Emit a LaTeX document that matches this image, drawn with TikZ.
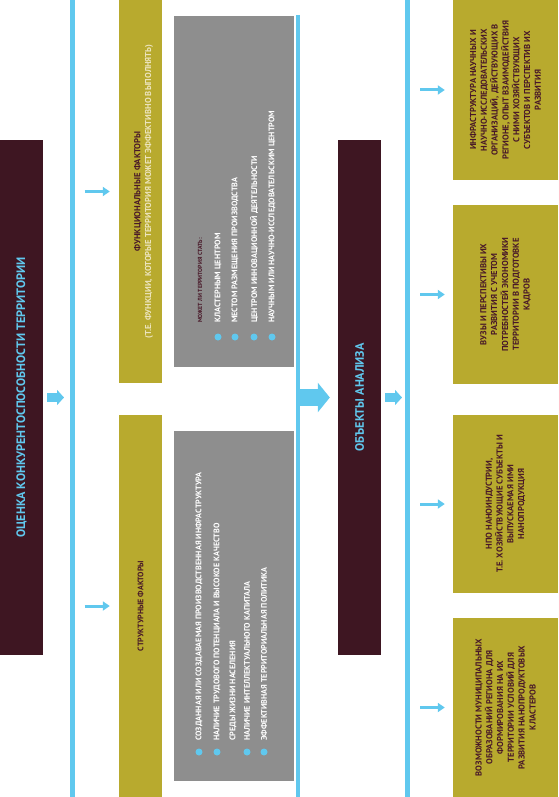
\documentclass[tikz,border=0pt]{standalone}
\usepackage{fontspec}
\setmainfont{PT Sans}[BoldFont={PT Sans Bold}]
\usetikzlibrary{arrows.meta}

\definecolor{darkmaroon}{RGB}{62,22,34}
\definecolor{factorolive}{RGB}{184,170,46}
\definecolor{panelgrey}{RGB}{142,142,142}
\definecolor{skyblue}{RGB}{96,200,238}
\definecolor{inkmaroon}{RGB}{72,24,40}
\definecolor{palecream}{RGB}{236,228,188}

\begin{document}
\begin{tikzpicture}[
  x=1pt, y=-1pt,
  % --- boxes (all text reads bottom to top)
  darkbox/.style={fill=darkmaroon, text=skyblue, rotate=90, inner sep=0pt,
    minimum height=43pt, font=\fontsize{12.2}{14}\selectfont\bfseries},
  olivebox/.style={fill=factorolive, text=inkmaroon, rotate=90, inner sep=0pt,
    align=center, font=\fontsize{8.6}{10.8}\selectfont\bfseries},
  greybox/.style={fill=panelgrey, rotate=90, inner sep=0pt,
    minimum height=120pt},
  % --- lists inside the grey panels
  listitem/.style={text=white, rotate=90, anchor=west, inner sep=0pt,
    align=left, font=\fontsize{8.1}{16}\selectfont\bfseries},
  listhead/.style={text=inkmaroon, rotate=90, anchor=west, inner sep=0pt,
    font=\fontsize{5.9}{6}\selectfont\bfseries},
  bullet/.style={circle, fill=skyblue, inner sep=0pt, minimum size=7pt},
  % --- connectors
  bus/.style={draw=skyblue, line width=5pt},
  thin arrow/.style={draw=skyblue, line width=3pt,
    -{Triangle[length=7pt,width=9pt]}},
  fat arrow/.style={draw=skyblue, line width=9pt,
    -{Triangle[length=7pt,width=15pt]}},
  huge arrow/.style={draw=skyblue, line width=17pt,
    -{Triangle[length=12pt,width=29pt]}},
]
\useasboundingbox (0,0) rectangle (558,797);

%========================
% vertical buses
%========================
\coordinate (busA top) at (72.5,0);
\coordinate (busA bot) at (72.5,797);
\coordinate (busB top) at (298,15);
\coordinate (busB bot) at (298,797);
\coordinate (busC top) at (407.5,0);
\coordinate (busC bot) at (407.5,797);
\draw[bus] (busA top) -- (busA bot);
\draw[bus, line width=4pt] (busB top) -- (busB bot);
\draw[bus] (busC top) -- (busC bot);

%========================
% left: assessment
%========================
\node[darkbox, minimum width=515pt] (assess) at (21.5,397.5)
  {ОЦЕНКА КОНКУРЕНТОСПОСОБНОСТИ ТЕРРИТОРИИ};

% factor columns
\node[olivebox, minimum width=383pt, minimum height=43pt] (functional) at (140.5,191.5) {};
\node[olivebox] (functional text) at (143.5,191.5)
  {{\fontsize{8.7}{11}\selectfont ФУНКЦИОНАЛЬНЫЕ ФАКТОРЫ}\\
   \textcolor{palecream}{(Т.Е. ФУНКЦИИ, КОТОРЫЕ ТЕРРИТОРИЯ МОЖЕТ ЭФФЕКТИВНО ВЫПОЛНЯТЬ)}};
\node[olivebox, minimum width=382pt, minimum height=43pt,
  font=\fontsize{8}{11}\selectfont\bfseries] (structural) at (140.5,606)
  {СТРУКТУРНЫЕ ФАКТОРЫ};

\draw[fat arrow, shorten <=4pt, shorten >=8.5pt] (assess.south) -- (assess.south -| busA top);
\draw[thin arrow, shorten <=12pt, shorten >=9pt] (functional.north -| busA top) -- (functional.north);
\draw[thin arrow, shorten <=12pt, shorten >=9pt] (structural.north -| busA top) -- (structural.north);

%========================
% grey panels
%========================
\node[greybox, minimum width=351pt] (canbe) at (234,191.5) {};
\node[listhead] (canbe head) at (200,323) {МОЖЕТ ЛИ ТЕРРИТОРИЯ СТАТЬ:};
\foreach \px/\txt [count=\i] in {218/КЛАСТЕРНЫМ ЦЕНТРОМ,
    235/МЕСТОМ РАЗМЕЩЕНИЯ ПРОИЗВОДСТВА,
    254/ЦЕНТРОМ ИННОВАЦИОННОЙ ДЕЯТЕЛЬНОСТИ,
    272/НАУЧНЫМ ИЛИ НАУЧНО-ИССЛЕДОВАТЕЛЬСКИМ ЦЕНТРОМ} {
  \node[bullet] (canbe dot\i) at (\px,337) {};
  \node[listitem] (canbe item\i) at (\px,323) {\txt};
}

\node[greybox, minimum width=350pt] (hasgot) at (234,606) {};
\foreach \px/\txt [count=\i] in {199/СОЗДАННАЯ ИЛИ СОЗДАВАЕМАЯ ПРОИЗВОДСТВЕННАЯ ИНФРАСТРУКТУРА,
    247/НАЛИЧИЕ ИНТЕЛЛЕКТУАЛЬНОГО КАПИТАЛА,
    264/ЭФФЕКТИВНАЯ ТЕРРИТОРИАЛЬНАЯ ПОЛИТИКА} {
  \node[bullet] (hasgot dot\i) at (\px,752) {};
  \node[listitem] (hasgot item\i) at (\px,741) {\txt};
}
\node[bullet] (hasgot dot4) at (217,752) {};
\node[listitem] (hasgot item4) at (225,741)
  {НАЛИЧИЕ ТРУДОВОГО ПОТЕНЦИАЛА И ВЫСОКОЕ КАЧЕСТВО\\СРЕДЫ ЖИЗНИ НАСЕЛЕНИЯ};

%========================
% middle: objects of analysis
%========================
\node[darkbox, minimum width=515pt] (objects) at (359.5,397.5) {ОБЪЕКТЫ АНАЛИЗА};
\draw[huge arrow, shorten >=8pt] (objects.north -| busB top) -- (objects.north);
\draw[fat arrow, shorten <=4pt, shorten >=5.5pt] (objects.south) -- (objects.south -| busC top);

%========================
% right: objects
%========================
\node[olivebox, minimum width=180pt, minimum height=105pt] (science) at (505.5,90)
  {ИНФРАСТРУКТУРА НАУЧНЫХ И\\НАУЧНО-ИССЛЕДОВАТЕЛЬСКИХ\\ОРГАНИЗАЦИЙ, ДЕЙСТВУЮЩИХ В\\
   РЕГИОНЕ, ОПЫТ ВЗАИМОДЕЙСТВИЯ\\С НИМИ ХОЗЯЙСТВУЮЩИХ\\СУБЪЕКТОВ И ПЕРСПЕКТИВ ИХ\\РАЗВИТИЯ};
\node[olivebox, minimum width=179pt, minimum height=105pt] (univ) at (505.5,294.5)
  {ВУЗЫ И ПЕРСПЕКТИВЫ ИХ\\РАЗВИТИЯ С УЧЕТОМ\\ПОТРЕБНОСТЕЙ ЭКОНОМИКИ\\
   ТЕРРИТОРИИ В ПОДГОТОВКЕ\\КАДРОВ};
\node[olivebox, minimum width=178pt, minimum height=105pt] (nano) at (505.5,504)
  {НПО НАНОИНДУСТРИИ,\\Т.Е. ХОЗЯЙСТВУЮЩИЕ СУБЪЕКТЫ И\\ВЫПУСКАЕМАЯ ИМИ\\НАНОПРОДУКЦИЯ};
\node[olivebox, minimum width=179pt, minimum height=105pt] (municip) at (505.5,707.5)
  {ВОЗМОЖНОСТИ МУНИЦИПАЛЬНЫХ\\ОБРАЗОВАНИЙ РЕГИОНА ДЛЯ\\ФОРМИРОВАНИЯ НА ИХ\\
   ТЕРРИТОРИИ УСЛОВИЙ ДЛЯ\\РАЗВИТИЯ НАНОПРОДУКТОВЫХ\\КЛАСТЕРОВ};

\foreach \target in {science,univ,nano,municip}
  \draw[thin arrow, shorten <=12.5pt, shorten >=8pt] (\target.north -| busC top) -- (\target.north);

\end{tikzpicture}
\end{document}
